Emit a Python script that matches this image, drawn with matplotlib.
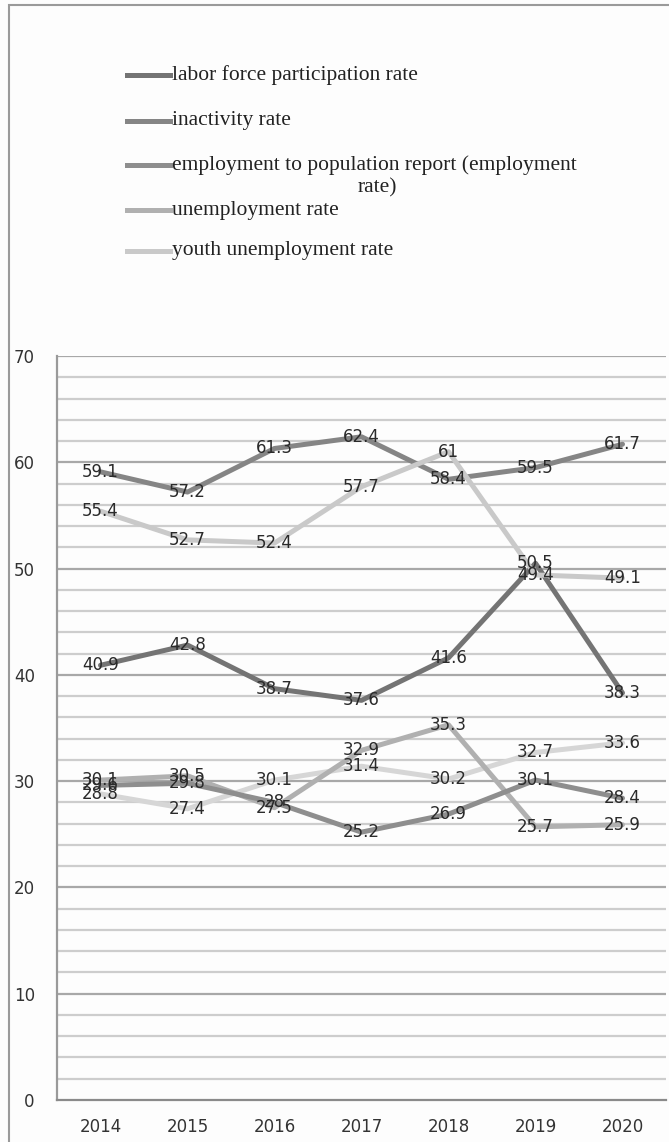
import matplotlib
matplotlib.use("Agg")
import matplotlib.pyplot as plt
from matplotlib.lines import Line2D
from matplotlib.patches import Rectangle

years = ["2014", "2015", "2016", "2017", "2018", "2019", "2020"]

labor_force = [40.9, 42.8, 38.7, 37.6, 41.6, 50.5, 38.3]
inactivity = [59.1, 57.2, 61.3, 62.4, 58.4, 59.5, 61.7]
employment = [29.6, 29.8, 28.0, 25.2, 26.9, 30.1, 28.4]
unemployment = [30.1, 30.5, 27.5, 32.9, 35.3, 25.7, 25.9]
youth_unemployment = [55.4, 52.7, 52.4, 57.7, 61.0, 49.4, 49.1]
other_rate = [28.8, 27.4, 30.1, 31.4, 30.2, 32.7, 33.6]

legend_names = [
    "labor force participation rate",
    "inactivity rate",
    "employment to population report (employment",
    "unemployment rate",
    "youth unemployment rate",
]

fig = plt.figure(figsize=(6.69, 11.42), dpi=100)
fig.patch.set_facecolor("#fdfdfd")

# outer frame of the chart area
fig.patches.append(Rectangle((9 / 669, -0.1), 1.2, 1.1 - 5 / 1142,
                             transform=fig.transFigure, fill=False,
                             edgecolor="#9a9a9a", linewidth=1.5))

ax = fig.add_axes([57 / 669, 1 - 1100 / 1142, 609 / 669, 744 / 1142])
ax.set_facecolor("#fdfdfd")

x = list(range(len(years)))

# gridlines: light every 2, darker every 10
for v in range(2, 70, 2):
    if v % 10:
        ax.axhline(v, color="#cdcdcd", linewidth=1.6, zorder=1)
for v in range(10, 71, 10):
    ax.axhline(v, color="#a8a8a8", linewidth=1.6, zorder=1)

series = [
    (inactivity, "#858585"),
    (labor_force, "#747474"),
    (youth_unemployment, "#c9c9c9"),
    (other_rate, "#d6d6d6"),
    (unemployment, "#b0b0b0"),
    (employment, "#8e8e8e"),
]
for vals, col in series:
    ax.plot(x, vals, color=col, linewidth=3.6, solid_capstyle="round", zorder=2)
    for xi, v in zip(x, vals):
        ax.text(xi, v, f"{v:g}", ha="center", va="center", fontsize=12,
                color="#2a2a2a", zorder=3)

ax.set_xlim(-0.5, 6.5)
ax.set_ylim(0, 70)
ax.set_xticks(x)
ax.set_xticklabels(years)
ax.set_yticks(range(0, 71, 10))
ax.tick_params(axis="both", length=0, labelsize=12, colors="#333333")
ax.tick_params(axis="x", pad=13)
ax.tick_params(axis="y", pad=16)
for s in ["top", "right"]:
    ax.spines[s].set_visible(False)
ax.spines["left"].set_color("#9a9a9a")
ax.spines["left"].set_linewidth(1.6)
ax.spines["bottom"].set_color("#8a8a8a")
ax.spines["bottom"].set_linewidth(1.6)

# legend drawn by hand
leg_colors = ["#747474", "#858585", "#8e8e8e", "#b0b0b0", "#c9c9c9"]
leg_y = [75, 121, 165, 210, 251]
for name, col, yy in zip(legend_names, leg_colors, leg_y):
    yf = 1 - yy / 1142
    fig.add_artist(Line2D([127 / 669, 170 / 669], [yf, yf], color=col,
                          linewidth=3.6, transform=fig.transFigure))
    fig.text(172 / 669, yf, name, ha="left", va="center", fontsize=15.5,
             family="Liberation Serif", color="#222222")
fig.text(377 / 669, 1 - 188 / 1142, "rate)", ha="center", va="center",
         fontsize=15.5, family="Liberation Serif", color="#222222")

fig.savefig("out.png", dpi=100, facecolor=fig.get_facecolor())
